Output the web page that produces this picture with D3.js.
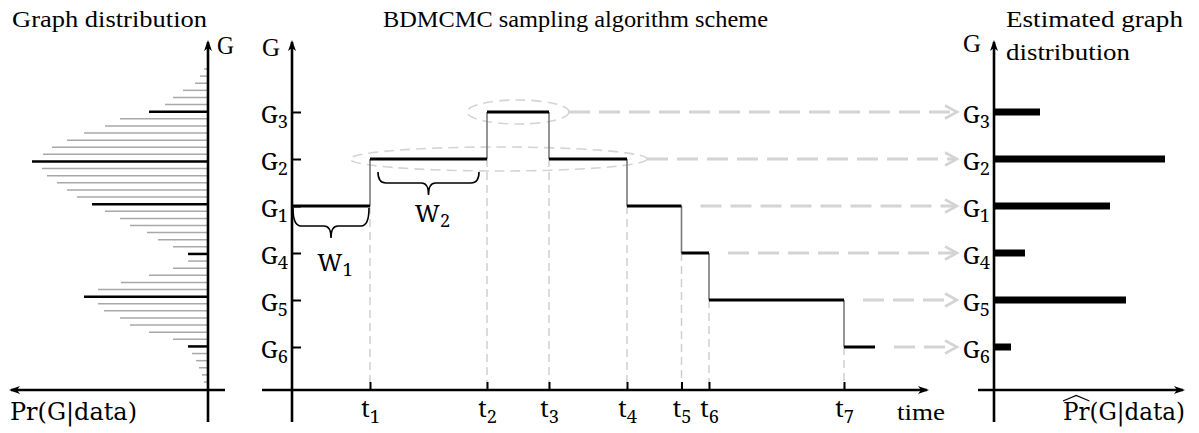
<!DOCTYPE html>
<meta charset="utf-8">
<style>body{margin:0;background:#fff}</style>
<svg width="1199" height="433"></svg>
<script src="https://cdn.jsdelivr.net/npm/d3@7"></script>
<script>
// graph distribution (left panel), one value per graph, top to bottom
var priorVals = [4,8,13,25,35,43,59,88,103,124,141,156,165,176,166,161,151,141,131,116,103,88,78,61,50,35,20,20,35,59,87,110,124,110,104,88,78,59,35,20,16,12,9,6,4];
// graphs visited by the sampler and their row in the distribution
var graphs = ["G3","G2","G1","G4","G5","G6"];
var graphRows = [6,13,19,26,32,39];
// chain states and jump times (last value = end of the run)
var states = ["G1","G2","G3","G2","G1","G4","G5","G6"];
var jumpTimes = [0,7.8,19.5,25.7,33.5,38.95,41.7,55.2,58.3];
var timeLabels = ["t1","t2","t3","t4","t5","t6","t7"];
var circled = ["G3","G2"];
// estimated graph distribution (right panel), same order as graphs
var estProb = [0.092,0.342,0.232,0.062,0.264,0.034];

var svg = d3.select("svg");
var light = "#d4d4d4";
var mathFont = "Noto Serif", textFont = "Liberation Serif", prFont = "DejaVu Serif";
var axisY = 390;

var xTime = d3.scaleLinear().domain([0,63.7]).range([292,929]);
var yG = d3.scalePoint().domain(graphs).range([112,347]);
var yRow = d3.scaleLinear().domain([0,priorVals.length-1]).range([69,382]);
var xPrior = d3.scaleLinear().domain([0,180]).range([208,28]);
var xEst = d3.scaleLinear().domain([0,0.36]).range([994,1174]);

// letter + subscript
function sub(text, s) {
  text.text(null);
  text.append("tspan").text(s[0]);
  text.append("tspan").attr("font-size","0.76em").attr("dy","0.3em").text(s.slice(1));
}

// arrow head, tip at (x,y), rotated by angle (0 = pointing up)
function head(x, y, angle) {
  svg.append("path")
    .attr("d","M0,0 L-4,11 L0,8 L4,11 Z")
    .attr("transform","translate("+x+","+y+") rotate("+angle+")")
    .attr("fill","#000");
}

function axisLine(x1,y1,x2,y2) {
  svg.append("line").attr("x1",x1).attr("y1",y1).attr("x2",x2).attr("y2",y2)
    .attr("stroke","#000").attr("stroke-width",2.6);
}

function label(x, y, str, w, size) {
  var t = svg.append("text").attr("x",x).attr("y",y)
    .attr("font-family",textFont).attr("font-size",size || 24).text(str);
  if (w) t.attr("textLength",w).attr("lengthAdjust","spacingAndGlyphs");
  return t;
}

// ---- left panel: graph distribution ----
svg.append("g").selectAll("line").data(priorVals).join("line")
  .attr("x1",function(d){ return xPrior(d); })
  .attr("x2",xPrior(0))
  .attr("y1",function(d,i){ return yRow(i); })
  .attr("y2",function(d,i){ return yRow(i); })
  .attr("stroke",function(d,i){ return graphRows.indexOf(i) >= 0 ? "#000" : "#a8a8a8"; })
  .attr("stroke-width",function(d,i){ return graphRows.indexOf(i) >= 0 ? 2.5 : 1.5; });

axisLine(208,42,208,422);
axisLine(11,axisY,225,axisY);
head(208,40,0);
head(9,axisY,-90);
label(12,27,"Graph distribution",195);
label(217,54,"G",17,25);
svg.append("text").attr("x",10).attr("y",420)
  .attr("font-family",prFont).attr("font-size",24).text("Pr(G|data)")
  .attr("textLength",127).attr("lengthAdjust","spacingAndGlyphs");

// ---- middle panel: BDMCMC scheme ----
var segs = states.map(function(g,i){ return {g:g, t0:jumpTimes[i], t1:jumpTimes[i+1]}; });

// dashed drops to the time axis
svg.append("g").selectAll("line").data(jumpTimes.slice(1,8)).join("line")
  .attr("x1",function(d){ return xTime(d); }).attr("x2",function(d){ return xTime(d); })
  .attr("y1",function(d,i){ return Math.max(yG(states[i]), yG(states[i+1])); })
  .attr("y2",axisY)
  .attr("stroke","#cfcfcf").attr("stroke-width",1.5).attr("stroke-dasharray","8,5");

// ellipses round repeated states
var ell = {};
circled.forEach(function(g){
  var s = segs.filter(function(d){ return d.g === g; });
  var a = xTime(d3.min(s,function(d){ return d.t0; })), b = xTime(d3.max(s,function(d){ return d.t1; }));
  ell[g] = {cx:(a+b)/2, rx:(b-a)/2+20};
});
svg.append("g").selectAll("ellipse").data(circled).join("ellipse")
  .attr("cx",function(g){ return ell[g].cx; }).attr("cy",function(g){ return yG(g); })
  .attr("rx",function(g){ return ell[g].rx; }).attr("ry",12)
  .attr("fill","none").attr("stroke",light).attr("stroke-width",1.6).attr("stroke-dasharray","10,6");

// dashed arrows to the estimated distribution
var arrowEnd = 957;
var arrows = svg.append("g").selectAll("g").data(graphs).join("g");
arrows.append("line")
  .attr("x1",function(g){
    if (ell[g]) return ell[g].cx + ell[g].rx;
    var s = segs.filter(function(d){ return d.g === g; });
    return xTime(d3.max(s,function(d){ return d.t1; })) + 19;
  })
  .attr("x2",arrowEnd-2)
  .attr("y1",function(g){ return yG(g); }).attr("y2",function(g){ return yG(g); })
  .attr("stroke",light).attr("stroke-width",3).attr("stroke-dasharray","21,9");
arrows.append("path")
  .attr("d",function(g){ var y = yG(g); return "M"+(arrowEnd-12)+","+(y-6.5)+" L"+arrowEnd+","+y+" L"+(arrowEnd-12)+","+(y+6.5); })
  .attr("fill","none").attr("stroke",light).attr("stroke-width",2.6);

// vertical jumps
svg.append("g").selectAll("line").data(jumpTimes.slice(1,8)).join("line")
  .attr("x1",function(d){ return xTime(d); }).attr("x2",function(d){ return xTime(d); })
  .attr("y1",function(d,i){ return yG(states[i]); })
  .attr("y2",function(d,i){ return yG(states[i+1]); })
  .attr("stroke","#7a7a7a").attr("stroke-width",1.6);

// holding segments
svg.append("g").selectAll("line").data(segs).join("line")
  .attr("x1",function(d){ return xTime(d.t0); }).attr("x2",function(d){ return xTime(d.t1); })
  .attr("y1",function(d){ return yG(d.g); }).attr("y2",function(d){ return yG(d.g); })
  .attr("stroke","#000").attr("stroke-width",3);

// waiting time braces
var braces = [
  {name:"W1", seg:0, inset:1, gap:2, depth:18, tip:30, dx:4, dy:33},
  {name:"W2", seg:1, inset:8, gap:13, depth:11, tip:23, dx:4, dy:27}
];
braces.forEach(function(b){
  var s = segs[b.seg];
  var x0 = xTime(s.t0)+b.inset, x1 = xTime(s.t1)-b.inset, xm = (x0+x1)/2;
  var y0 = yG(s.g)+b.gap, ya = y0+b.depth, yt = y0+b.tip;
  svg.append("path")
    .attr("d","M"+x0+","+y0+" Q"+x0+","+ya+" "+(x0+8)+","+ya+" L"+(xm-7)+","+ya+
      " Q"+xm+","+ya+" "+xm+","+yt+" Q"+xm+","+ya+" "+(xm+7)+","+ya+
      " L"+(x1-8)+","+ya+" Q"+x1+","+ya+" "+x1+","+y0)
    .attr("fill","none").attr("stroke","#000").attr("stroke-width",1.6);
  var t = svg.append("text").attr("x",xm+b.dx).attr("y",yt+b.dy)
    .attr("text-anchor","middle").attr("font-family",mathFont).attr("font-size",24);
  sub(t,b.name);
});

// G axis
var gAxis = svg.append("g").attr("transform","translate(292,0)")
  .call(d3.axisLeft(yG).tickSizeInner(-9).tickSizeOuter(0).tickPadding(4));
gAxis.select(".domain").remove();
gAxis.attr("font-family",mathFont).attr("font-size",24);
gAxis.selectAll("line").attr("stroke-width",2);
gAxis.selectAll("text").attr("dy","0.42em").each(function(d){ sub(d3.select(this), d); });

// time axis
var tAxis = svg.append("g").attr("transform","translate(0,"+axisY+")")
  .call(d3.axisBottom(xTime).tickValues(jumpTimes.slice(1,8))
    .tickFormat(function(d,i){ return timeLabels[i]; })
    .tickSizeInner(-8).tickSizeOuter(0).tickPadding(10));
tAxis.select(".domain").remove();
tAxis.attr("font-family",mathFont).attr("font-size",24);
tAxis.selectAll("line").attr("stroke-width",2);
tAxis.selectAll("text").each(function(d,i){ sub(d3.select(this), timeLabels[i]); });

axisLine(292,42,292,422);
axisLine(262,axisY,927,axisY);
head(292,40,0);
head(929,axisY,90);
label(383,27,"BDMCMC sampling algorithm scheme",385);
label(262,56,"G",18,25);
label(897,420,"time",48);

// ---- right panel: estimated graph distribution ----
svg.append("g").selectAll("line").data(estProb).join("line")
  .attr("x1",xEst(0)).attr("x2",function(d){ return xEst(d); })
  .attr("y1",function(d,i){ return yG(graphs[i]); })
  .attr("y2",function(d,i){ return yG(graphs[i]); })
  .attr("stroke","#000").attr("stroke-width",7);

var rAxis = svg.append("g").attr("transform","translate(994,0)")
  .call(d3.axisLeft(yG).tickSize(0).tickPadding(4));
rAxis.select(".domain").remove();
rAxis.attr("font-family",mathFont).attr("font-size",24);
rAxis.selectAll("text").attr("dy","0.42em").each(function(d){ sub(d3.select(this), d); });

axisLine(994,42,994,422);
axisLine(978,axisY,1183,axisY);
head(994,40,0);
head(1185,axisY,90);
label(963,52,"G",18,25);
label(1006,27,"Estimated graph",177);
label(1006,60,"distribution",124);

var pr = svg.append("text").attr("x",1063).attr("y",420)
  .attr("font-family",prFont).attr("font-size",24).text("Pr(G|data)")
  .attr("textLength",122).attr("lengthAdjust","spacingAndGlyphs");
var hw = pr.node().getSubStringLength(0,2);
svg.append("path")
  .attr("d","M1063,401 L"+(1063+hw/2)+",395.5 L"+(1063+hw)+",401")
  .attr("fill","none").attr("stroke","#000").attr("stroke-width",1.2);
</script>
